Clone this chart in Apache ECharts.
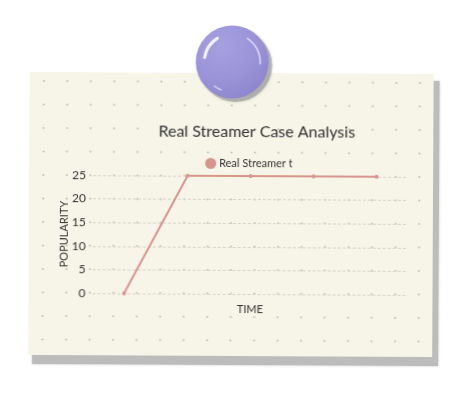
<!DOCTYPE html>
<html><head><meta charset="utf-8">
<script src="https://cdn.jsdelivr.net/npm/echarts@6/dist/echarts.min.js"></script>
<style>html,body{margin:0;padding:0;background:#fff;}#c{width:472px;height:394px;transform:rotate(0.3deg);transform-origin:50% 50%;}</style>
</head><body><div id="c"></div>
<script>
var categories = ['T1', 'T2', 'T3', 'T4', 'T5'];
var seriesName = 'Real Streamer t';
var values = [0, 25, 25, 25, 25];
var yTicks = [0, 5, 10, 15, 20, 25];

var chart = echarts.init(document.getElementById('c'));

var bg = [];
// paper shadow
bg.push({type:'rect', z:-30, shape:{x:33, y:80, width:406, height:285}, style:{fill:'#bcbcbc', shadowBlur:2, shadowColor:'rgba(150,150,150,0.6)'}});
// paper
bg.push({type:'rect', z:-20, shape:{x:29, y:73, width:404, height:283}, style:{fill:'#f7f5e8'}});
// dot grid
for (var r = 0; r < 12; r++) {
  for (var k = 0; k < 17; k++) {
    bg.push({type:'circle', z:-15, silent:true, shape:{cx:43.3 + k*23.5, cy:82 + r*23.5, r:1.1}, style:{fill:'#c7c3b6'}});
  }
}
// pin shadow
bg.push({type:'circle', z:50, shape:{cx:235, cy:65.5, r:36.5}, style:{fill:'rgba(150,150,150,0.6)', shadowBlur:3, shadowColor:'rgba(120,120,120,0.5)'}});
// pin
bg.push({type:'circle', z:51, shape:{cx:231.5, cy:62, r:36.5}, style:{fill:{type:'radial', x:0.35, y:0.28, r:0.85, colorStops:[{offset:0, color:'#a6a0df'},{offset:0.55, color:'#9b93d8'},{offset:1, color:'#8b83ca'}]}}});
// highlights
bg.push({type:'arc', z:52, shape:{cx:231.5, cy:62, r:28, startAngle:Math.PI*1.05, endAngle:Math.PI*1.32}, style:{stroke:'#f4f2ff', lineWidth:3, fill:null, lineCap:'round'}});
bg.push({type:'arc', z:52, shape:{cx:231.5, cy:62, r:28, startAngle:-Math.PI*0.32, endAngle:Math.PI*0.02}, style:{stroke:'#d9d5f6', lineWidth:1.6, fill:null, lineCap:'round'}});
bg.push({type:'arc', z:52, shape:{cx:231.5, cy:62, r:30, startAngle:Math.PI*0.62, endAngle:Math.PI*0.7}, style:{stroke:'#d9d5f6', lineWidth:1.4, fill:null, lineCap:'round'}});

var option = {
  animation: false,
  graphic: {elements: bg},
  title: {
    text: 'Real Streamer Case Analysis',
    left: 251.5, textAlign: 'center', top: 119,
    textStyle: {fontFamily: 'Lato', fontSize: 16, fontWeight: 'normal', color: '#333'}
  },
  legend: {
    left: 200, top: 153,
    icon: 'circle', itemWidth: 11, itemHeight: 11, itemGap: 10,
    textStyle: {fontFamily: 'Lato', fontSize: 11, color: '#333', padding: [0, 0, 0, -2]},
    data: [seriesName]
  },
  grid: {left: 93, right: 64, top: 176, bottom: 100, containLabel: false},
  xAxis: {
    type: 'category', data: categories, boundaryGap: true,
    name: 'TIME', nameLocation: 'middle', nameGap: 10, nameMoveOverlap: false,
    nameTextStyle: {fontFamily: 'Lato', fontSize: 11, color: '#333'},
    axisLine: {show: false}, axisTick: {show: false}, axisLabel: {show: false},
    splitLine: {show: false}
  },
  yAxis: {
    type: 'value', min: yTicks[0], max: yTicks[yTicks.length-1], interval: 5,
    name: 'POPULARITY', nameLocation: 'middle', nameGap: 23, nameMoveOverlap: false,
    nameTextStyle: {fontFamily: 'Lato', fontSize: 11, color: '#333'},
    axisLine: {show: false}, axisTick: {show: false},
    axisLabel: {fontFamily: 'Lato', fontSize: 12, color: '#333', margin: 7},
    splitLine: {show: true, lineStyle: {color: '#d6d3c8', type: [3, 2], width: 1}}
  },
  series: [{
    name: seriesName, type: 'line', data: values,
    symbol: 'circle', symbolSize: 4, z: 5,
    itemStyle: {color: '#d8958f'},
    lineStyle: {color: '#d8958f', width: 2}
  }]
};
chart.setOption(option);
</script></body></html>
